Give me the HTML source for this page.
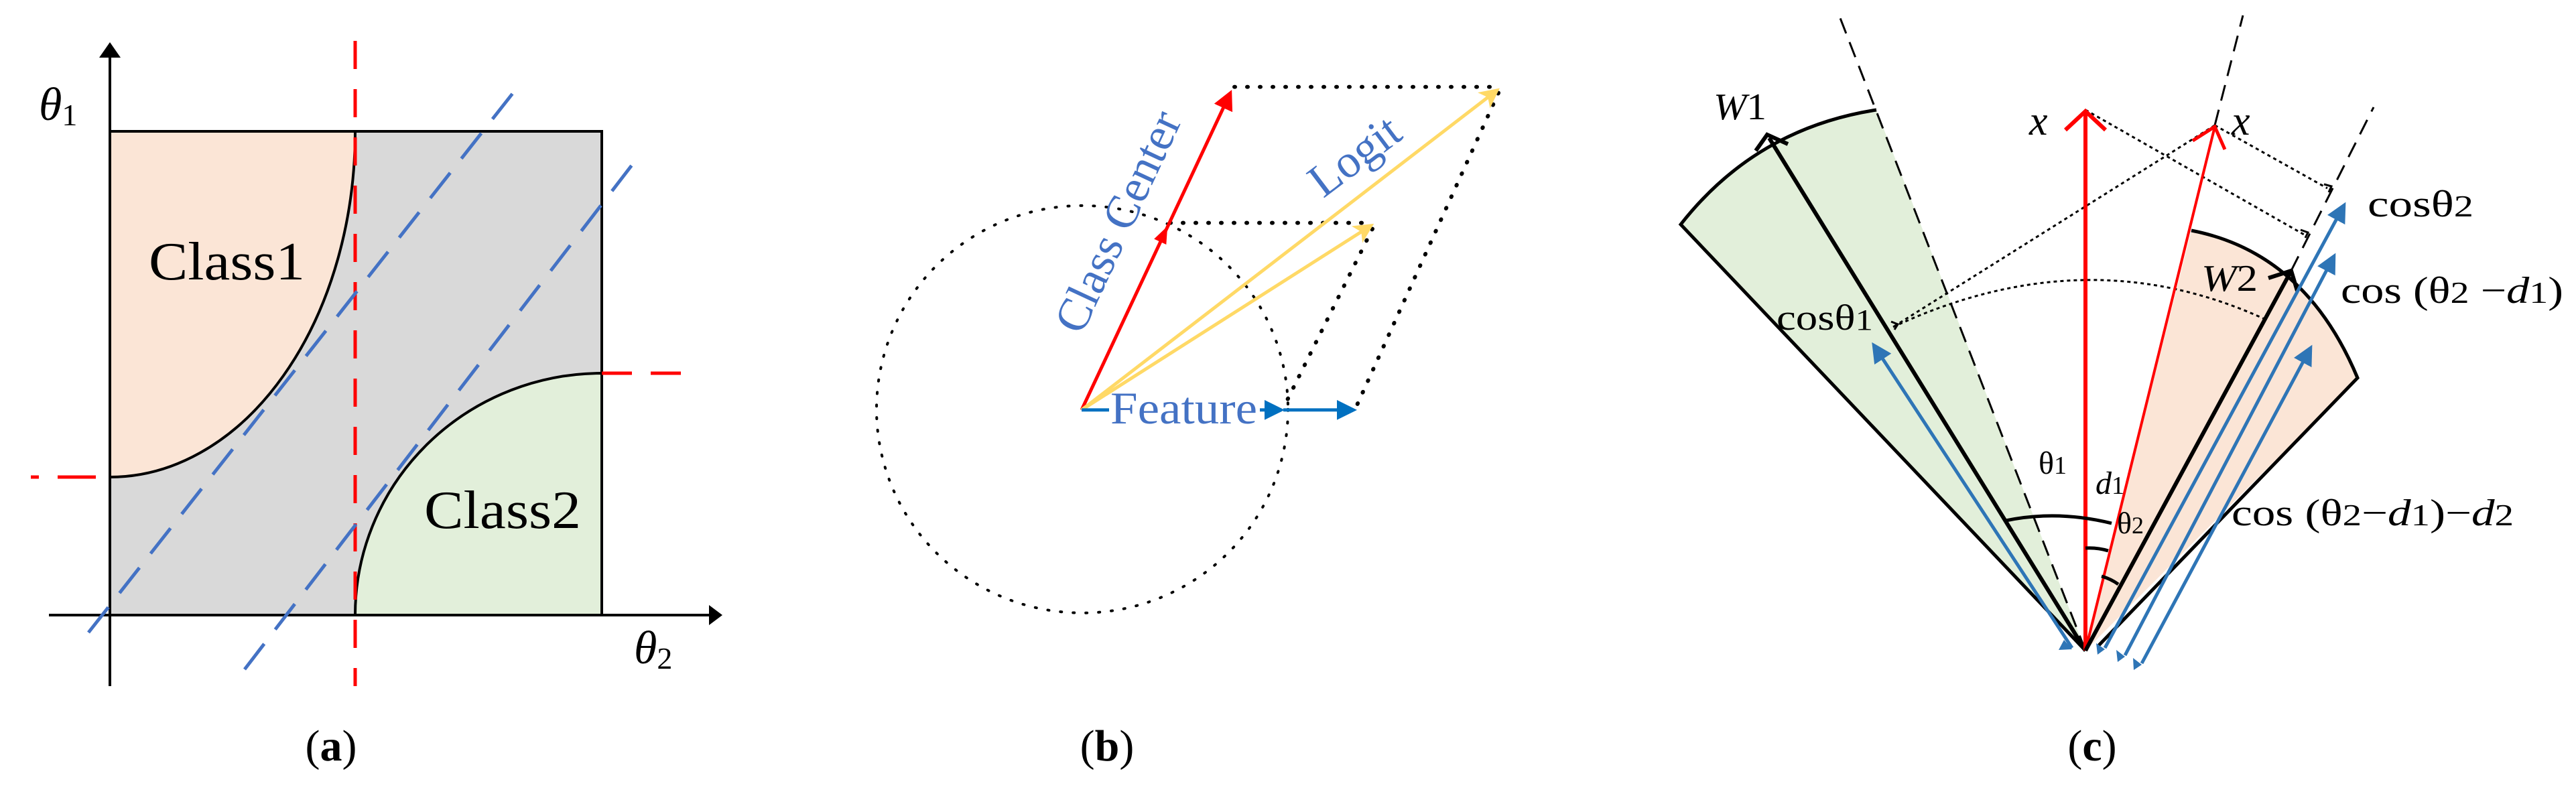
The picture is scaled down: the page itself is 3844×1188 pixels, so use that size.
<!DOCTYPE html>
<html><head><meta charset="utf-8"><style>
html,body{margin:0;padding:0;background:#fff;overflow:hidden}
svg{display:block}
text{font-family:"Liberation Serif",serif}
</style></head><body>
<svg width="3844" height="1188" viewBox="0 0 3844 1188" xmlns="http://www.w3.org/2000/svg">
<defs>
<marker id="bl" markerWidth="6" markerHeight="6" refX="5" refY="3" orient="auto" markerUnits="strokeWidth"><path d="M0,0 L6,3 L0,6 Z" fill="#2e75b6"/></marker>
<marker id="fb" markerWidth="6" markerHeight="6" refX="5" refY="3" orient="auto" markerUnits="strokeWidth"><path d="M0,0 L6,3 L0,6 Z" fill="#0070c0"/></marker>
<marker id="rd" markerWidth="6" markerHeight="6" refX="5" refY="3" orient="auto" markerUnits="strokeWidth"><path d="M0,0 L6,3 L0,6 Z" fill="#ff0000"/></marker>
<marker id="yl" markerWidth="6" markerHeight="6" refX="5" refY="3" orient="auto" markerUnits="strokeWidth"><path d="M0,0 L6,3 L0,6 L1.5,3 Z" fill="#ffd966"/></marker>
</defs>

<!-- Panel (a) -->
<rect x="164" y="196" width="734" height="722" fill="#d9d9d9"/>
<path d="M164,196 L530,196 A366,516 0 0 1 164,712 Z" fill="#fbe5d6" stroke="#000" stroke-width="4"/>
<path d="M898,918 L530,918 A368,361 0 0 1 898,557 Z" fill="#e2efda" stroke="#000" stroke-width="4"/>
<rect x="164" y="196" width="734" height="722" fill="none" stroke="#000" stroke-width="4"/>
<line x1="164" y1="1024" x2="164" y2="78" stroke="#000" stroke-width="4"/>
<path d="M164,63 L148,86 L180,86 Z" fill="#000"/>
<line x1="73" y1="918" x2="1065" y2="918" stroke="#000" stroke-width="4"/>
<path d="M1078,918 L1058,903 L1058,933 Z" fill="#000"/>
<line x1="530" y1="61" x2="530" y2="1024" stroke="#ff0000" stroke-width="5" stroke-dasharray="42,30"/>
<line x1="46" y1="712" x2="164" y2="712" stroke="#ff0000" stroke-width="5" stroke-dasharray="12,28,45,0"/>
<line x1="898" y1="557" x2="1026" y2="557" stroke="#ff0000" stroke-width="5" stroke-dasharray="45,28"/>
<line x1="132" y1="944" x2="774" y2="128" stroke="#4472c4" stroke-width="5" stroke-dasharray="48,27"/>
<line x1="365" y1="999" x2="954" y2="232" stroke="#4472c4" stroke-width="5" stroke-dasharray="48,27"/>
<text x="222" y="417" font-size="80" textLength="233" lengthAdjust="spacingAndGlyphs">Class1</text>
<text x="633" y="788" font-size="80" textLength="234" lengthAdjust="spacingAndGlyphs">Class2</text>
<text x="58" y="179" font-size="70" font-style="italic">θ<tspan font-size="46" font-style="normal" dy="8">1</tspan></text>
<text x="946" y="990" font-size="70" font-style="italic">θ<tspan font-size="46" font-style="normal" dy="8">2</tspan></text>
<text x="494" y="1135" font-size="66" text-anchor="middle">(<tspan font-weight="bold">a</tspan>)</text>

<!-- Panel (b) -->
<g transform="scale(1,0.99)">
<circle cx="1615" cy="617" r="307" fill="none" stroke="#000" stroke-width="4" stroke-dasharray="2,17" stroke-linecap="round"/>
<g stroke="#000" stroke-width="6" stroke-dasharray="1,18" stroke-linecap="round" fill="none">
<line x1="1842" y1="131" x2="2236" y2="131"/>
<line x1="1746" y1="336" x2="2048" y2="336"/>
<line x1="2048" y1="345" x2="1915" y2="615"/>
<line x1="2236" y1="140" x2="2023" y2="615"/>
</g>
<line x1="1614" y1="618" x2="1836" y2="140" stroke="#ff0000" stroke-width="5" marker-end="url(#rd)"/>
<path d="M1738,340 L1728,366 L1748,366 Z" fill="#ff0000" transform="rotate(25 1738 350)"/>
<line x1="1614" y1="618" x2="2234" y2="136" stroke="#ffd966" stroke-width="5" marker-end="url(#yl)"/>
<line x1="1614" y1="618" x2="2046" y2="340" stroke="#ffd966" stroke-width="5" marker-end="url(#yl)"/>
<line x1="1614" y1="618" x2="1655" y2="618" stroke="#0070c0" stroke-width="5"/>
<line x1="1880" y1="618" x2="1912" y2="618" stroke="#0070c0" stroke-width="5" marker-end="url(#fb)"/>
<line x1="1915" y1="618" x2="2020" y2="618" stroke="#0070c0" stroke-width="5" marker-end="url(#fb)"/>
</g>
<text x="1657" y="632" font-size="68" fill="#4472c4" textLength="219" lengthAdjust="spacingAndGlyphs">Feature</text>
<text x="1671" y="352" font-size="70" fill="#4472c4" text-anchor="middle" transform="rotate(-65 1671 332)">Class Center</text>
<text x="2023" y="255" font-size="70" fill="#4472c4" text-anchor="middle" transform="rotate(-37 2023 235)">Logit</text>
<text x="1652" y="1135" font-size="66" text-anchor="middle">(<tspan font-weight="bold">b</tspan>)</text>

<!-- Panel (c) -->
<path d="M3112,971 L2508,335 Q2620,192 2800,164 Z" fill="#e2efda"/>
<path d="M3112,971 L2508,335 Q2620,192 2800,164" fill="none" stroke="#000" stroke-width="5"/>
<line x1="3112" y1="971" x2="2746" y2="27" stroke="#000" stroke-width="3" stroke-dasharray="24,14"/>
<path d="M3112,971 L3270,344 Q3440,377 3518,564 Z" fill="#fbe5d6"/>
<path d="M3270,344 Q3440,377 3518,564 L3132,963" fill="none" stroke="#000" stroke-width="5"/>
<line x1="3305" y1="187" x2="3347" y2="23" stroke="#000" stroke-width="3" stroke-dasharray="24,14"/>
<line x1="3419" y1="404" x2="3542" y2="160" stroke="#000" stroke-width="3" stroke-dasharray="24,14"/>
<g stroke="#000" stroke-width="3" stroke-dasharray="5,5" fill="none">
<line x1="3112" y1="164" x2="3438" y2="350"/>
<line x1="3305" y1="187" x2="3473" y2="281"/>
<line x1="3305" y1="187" x2="2825" y2="488"/>
<path d="M2825,488 Q3112,354 3379,476"/>
</g>
<path d="M2822,480 L2832,484 L2827,492" fill="none" stroke="#000" stroke-width="3"/>
<path d="M3433,343 L3444,347 L3440,355" fill="none" stroke="#000" stroke-width="3"/>
<path d="M3468,275 L3479,278 L3475,287" fill="none" stroke="#000" stroke-width="3"/>
<line x1="3112" y1="971" x2="2640" y2="206" stroke="#000" stroke-width="6"/>
<path d="M2620,225 L2637,201 L2668,215" fill="none" stroke="#000" stroke-width="6"/>
<line x1="3112" y1="971" x2="3112" y2="166" stroke="#ff0000" stroke-width="6"/>
<path d="M3082,194 L3112,166 L3142,194" fill="none" stroke="#ff0000" stroke-width="6"/>
<line x1="3112" y1="971" x2="3305" y2="189" stroke="#ff0000" stroke-width="4"/>
<path d="M3272,210 L3305,189 L3320,223" fill="none" stroke="#ff0000" stroke-width="5"/>
<line x1="3112" y1="971" x2="3418" y2="406" stroke="#000" stroke-width="6"/>
<path d="M3385,415 L3419,404 L3428,434" fill="none" stroke="#000" stroke-width="6"/>
<g stroke="#2e75b6" stroke-width="5" fill="none">
<line x1="3092" y1="967" x2="2796" y2="515" marker-end="url(#bl)"/>
<line x1="3141" y1="967" x2="3498" y2="306" marker-end="url(#bl)"/>
<line x1="3171" y1="978" x2="3483" y2="382" marker-end="url(#bl)"/>
<line x1="3196" y1="990" x2="3448" y2="519" marker-end="url(#bl)"/>
</g>
<path d="M3092,969 L3072,970 L3080,955 Z M3141,969 L3130,977 L3128,960 Z M3171,980 L3160,988 L3158,970 Z M3196,992 L3184,1000 L3183,982 Z" fill="#2e75b6"/>
<path d="M2993,777 Q3070,761 3151,781" fill="none" stroke="#000" stroke-width="5"/>
<path d="M3112,818 Q3130,817 3146,822" fill="none" stroke="#000" stroke-width="5"/>
<path d="M3136,860 Q3150,864 3161,872" fill="none" stroke="#000" stroke-width="5"/>
<text x="2557" y="178" font-size="56" font-style="italic" textLength="79" lengthAdjust="spacingAndGlyphs">W<tspan font-style="normal">1</tspan></text>
<text x="3028" y="201" font-size="62" font-style="italic">x</text>
<text x="3330" y="201" font-size="62" font-style="italic">x</text>
<text x="3285" y="434" font-size="56" font-style="italic" textLength="84" lengthAdjust="spacingAndGlyphs">W<tspan font-style="normal">2</tspan></text>
<text x="3533" y="323" font-size="56" textLength="158" lengthAdjust="spacingAndGlyphs">cosθ<tspan font-size="46">2</tspan></text>
<text x="3493" y="452" font-size="56" textLength="332" lengthAdjust="spacingAndGlyphs">cos (θ<tspan font-size="46">2</tspan> −<tspan font-style="italic">d</tspan><tspan font-size="46">1</tspan>)</text>
<text x="2651" y="492" font-size="54" textLength="144" lengthAdjust="spacingAndGlyphs">cosθ<tspan font-size="44">1</tspan></text>
<text x="3042" y="707" font-size="48">θ<tspan font-size="38">1</tspan></text>
<text x="3127" y="737" font-size="48" font-style="italic">d<tspan font-style="normal" font-size="38">1</tspan></text>
<text x="3159" y="796" font-size="46">θ<tspan font-size="36">2</tspan></text>
<text x="3330" y="784" font-size="56" textLength="421" lengthAdjust="spacingAndGlyphs">cos (θ<tspan font-size="46">2</tspan>−<tspan font-style="italic">d</tspan><tspan font-size="46">1</tspan>)−<tspan font-style="italic">d</tspan><tspan font-size="46">2</tspan></text>
<text x="3122" y="1135" font-size="66" text-anchor="middle">(<tspan font-weight="bold">c</tspan>)</text>
</svg>
</body></html>
